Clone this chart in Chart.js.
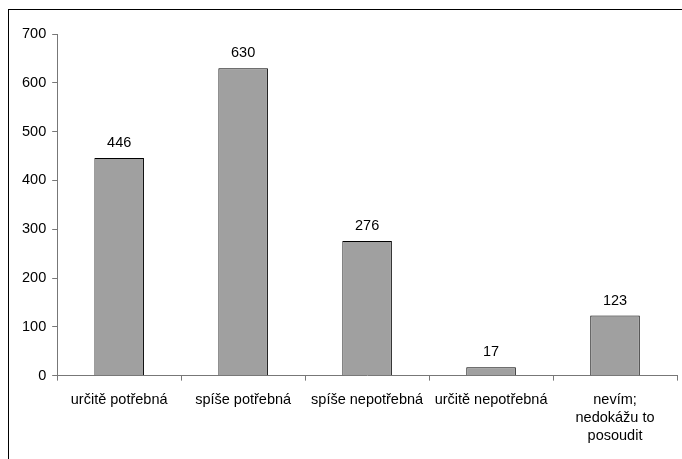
<!DOCTYPE html>
<html>
<head>
<meta charset="utf-8">
<script src="https://cdn.jsdelivr.net/npm/chart.js@4"></script>
<style>
  html, body { margin: 0; padding: 0; background: #fff; }
  #wrap { width: 682px; height: 459px; position: relative; }
</style>
</head>
<body>
<div id="wrap"><canvas id="odpovedi"></canvas></div>
<script>
var kategorie = [
    'určitě potřebná',
    'spíše potřebná',
    'spíše nepotřebná',
    'určitě nepotřebná',
    ['nevím;', 'nedokážu to', 'posoudit']
];
var pocty = [446, 630, 276, 17, 123];
var osaY = { min: 0, max: 700, step: 100 };

var pismo = { family: '"Liberation Sans", Arial, sans-serif', size: 14.5, lineHeight: 1.25 };

// ramecek kolem celeho grafu + popisky nad sloupci
var ramecek = {
    id: 'ramecek',
    afterDraw: function (chart) {
        var c = chart.ctx;
        c.save();
        c.strokeStyle = '#000';
        c.lineWidth = 1;
        c.strokeRect(8.5, 9.5, 700, 480);
        c.restore();
    }
};
var popisky = {
    id: 'popisky',
    afterDatasetsDraw: function (chart) {
        var c = chart.ctx;
        var meta = chart.getDatasetMeta(0);
        c.save();
        c.font = pismo.size + 'px ' + pismo.family;
        c.fillStyle = '#000';
        c.textAlign = 'center';
        c.textBaseline = 'middle';
        meta.data.forEach(function (bar, i) {
            c.fillText(String(pocty[i]), bar.x, bar.y - 15);
        });
        c.restore();
    }
};

var ctx = document.getElementById('odpovedi').getContext('2d');
var graf = new Chart(ctx, {
    type: 'bar',
    data: {
        labels: kategorie,
        datasets: [{
            label: 'Počet',
            data: pocty,
            backgroundColor: '#a0a0a0',
            borderColor: '#000',
            borderWidth: 1,
            categoryPercentage: 0.4,
            barPercentage: 1
        }]
    },
    options: {
        responsive: true,
        maintainAspectRatio: false,
        animation: false,
        layout: { padding: { top: 34, right: 5, bottom: 4, left: 16 } },
        plugins: {
            legend: { display: false },
            tooltip: { enabled: false }
        },
        scales: {
            x: {
                grid: { display: true, drawOnChartArea: false, offset: true, tickLength: 5, color: '#777' },
                border: { color: '#777' },
                ticks: { color: '#000', font: pismo, padding: 10, maxRotation: 0, autoSkip: false }
            },
            y: {
                min: osaY.min,
                max: osaY.max,
                grid: { display: true, drawOnChartArea: false, tickLength: 5, color: '#777' },
                border: { color: '#777' },
                ticks: { stepSize: osaY.step, color: '#000', font: pismo, padding: 6 }
            }
        }
    },
    plugins: [ramecek, popisky]
});
</script>
</body>
</html>
